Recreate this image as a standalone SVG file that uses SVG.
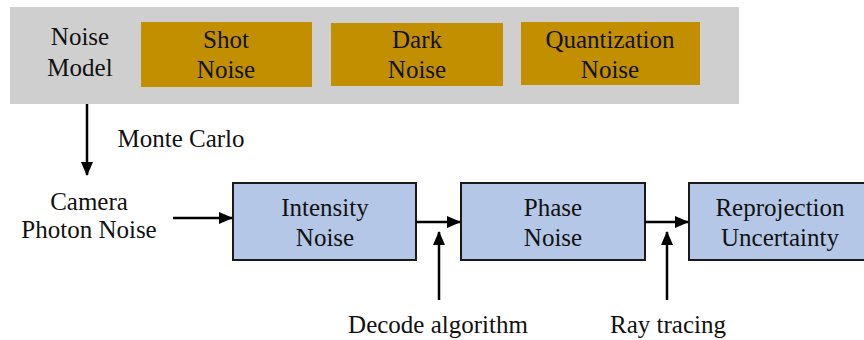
<svg xmlns="http://www.w3.org/2000/svg" width="864" height="340" viewBox="0 0 864 340">
<defs>
<marker id="ah" markerWidth="14" markerHeight="12" viewBox="0 0 14 12" refX="13" refY="6" orient="auto" markerUnits="userSpaceOnUse">
<path d="M0,0 L14,6 L0,12 Z" fill="#000"/>
</marker>
</defs>
<rect width="864" height="340" fill="#fff"/>
<g id="noise-model">
<rect x="10" y="7" width="729" height="97" fill="#D0CFD0"/>
<text x="80" y="45" style="font-family:'Liberation Serif',serif;font-size:25px;fill:#111;text-anchor:middle">Noise</text>
<text x="80" y="76" style="font-family:'Liberation Serif',serif;font-size:25px;fill:#111;text-anchor:middle">Model</text>
</g>
<g id="shot-noise">
<rect x="141" y="22" width="171" height="65" fill="#C18F00"/>
<text x="226" y="48" style="font-family:'Liberation Serif',serif;font-size:25px;fill:#111;text-anchor:middle">Shot</text>
<text x="226" y="78" style="font-family:'Liberation Serif',serif;font-size:25px;fill:#111;text-anchor:middle">Noise</text>
</g>
<g id="dark-noise">
<rect x="331" y="23" width="172" height="63" fill="#C18F00"/>
<text x="417" y="48" style="font-family:'Liberation Serif',serif;font-size:25px;fill:#111;text-anchor:middle">Dark</text>
<text x="417" y="78" style="font-family:'Liberation Serif',serif;font-size:25px;fill:#111;text-anchor:middle">Noise</text>
</g>
<g id="quantization-noise">
<rect x="521" y="22" width="179" height="63" fill="#C18F00"/>
<text x="610" y="48" style="font-family:'Liberation Serif',serif;font-size:25px;fill:#111;text-anchor:middle">Quantization</text>
<text x="610" y="78" style="font-family:'Liberation Serif',serif;font-size:25px;fill:#111;text-anchor:middle">Noise</text>
</g>
<g id="camera-photon-noise">
<text x="89" y="210" style="font-family:'Liberation Serif',serif;font-size:25px;fill:#111;text-anchor:middle">Camera</text>
<text x="89" y="238" style="font-family:'Liberation Serif',serif;font-size:25px;fill:#111;text-anchor:middle">Photon Noise</text>
</g>
<g id="intensity-noise">
<rect x="233" y="183" width="183" height="77" fill="#B4C7E7" stroke="#1a1a1a" stroke-width="2"/>
<text x="325" y="216" style="font-family:'Liberation Serif',serif;font-size:25px;fill:#111;text-anchor:middle">Intensity</text>
<text x="325" y="246" style="font-family:'Liberation Serif',serif;font-size:25px;fill:#111;text-anchor:middle">Noise</text>
</g>
<g id="phase-noise">
<rect x="461" y="183" width="184" height="77" fill="#B4C7E7" stroke="#1a1a1a" stroke-width="2"/>
<text x="553" y="216" style="font-family:'Liberation Serif',serif;font-size:25px;fill:#111;text-anchor:middle">Phase</text>
<text x="553" y="246" style="font-family:'Liberation Serif',serif;font-size:25px;fill:#111;text-anchor:middle">Noise</text>
</g>
<g id="reprojection-uncertainty">
<rect x="689" y="183" width="184" height="77" fill="#B4C7E7" stroke="#1a1a1a" stroke-width="2"/>
<text x="780" y="216" style="font-family:'Liberation Serif',serif;font-size:25px;fill:#111;text-anchor:middle">Reprojection</text>
<text x="780" y="246" style="font-family:'Liberation Serif',serif;font-size:25px;fill:#111;text-anchor:middle">Uncertainty</text>
</g>
<g id="connectors" stroke="#000" stroke-width="2.5" fill="none">
<line x1="87" y1="104" x2="87" y2="175" marker-end="url(#ah)"/>
<line x1="173" y1="218" x2="232" y2="218" marker-end="url(#ah)"/>
<line x1="416" y1="222" x2="460" y2="222" marker-end="url(#ah)"/>
<line x1="645" y1="222" x2="688" y2="222" marker-end="url(#ah)"/>
<line x1="439" y1="300" x2="439" y2="232" marker-end="url(#ah)"/>
<line x1="667" y1="300" x2="667" y2="232" marker-end="url(#ah)"/>
</g>
<g id="labels">
<text x="181" y="147" style="font-family:'Liberation Serif',serif;font-size:25px;fill:#111;text-anchor:middle">Monte Carlo</text>
<text x="438" y="333" style="font-family:'Liberation Serif',serif;font-size:25px;fill:#111;text-anchor:middle">Decode algorithm</text>
<text x="668" y="333" style="font-family:'Liberation Serif',serif;font-size:25px;fill:#111;text-anchor:middle">Ray tracing</text>
</g>
</svg>
